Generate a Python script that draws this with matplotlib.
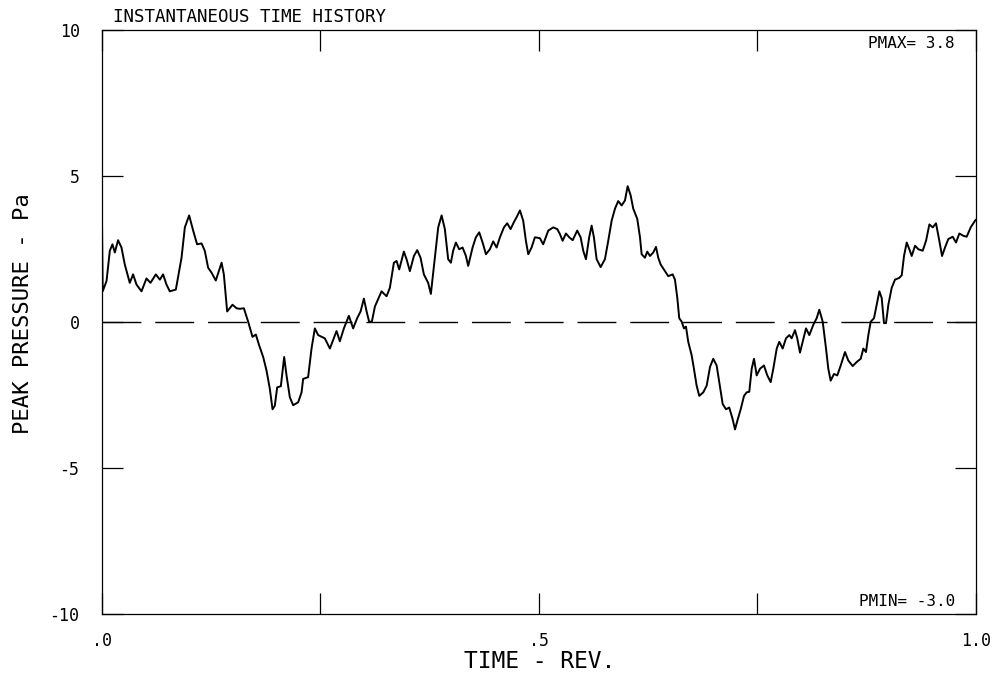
import matplotlib
matplotlib.use("Agg")
import matplotlib.pyplot as plt

# time history (time in rev, peak pressure in Pa)
time_rev = [
    0.000, 0.001, 0.0054, 0.0092, 0.0122, 0.0149, 0.0186, 0.0225, 0.0263, 0.0320,
    0.0358, 0.0397, 0.0454, 0.0511, 0.0557, 0.0618, 0.0664, 0.0701, 0.0740, 0.0778,
    0.0847, 0.0912, 0.0950, 0.0999, 0.1045, 0.1090, 0.1141, 0.1178, 0.1216, 0.1255,
    0.1304, 0.1370, 0.1396, 0.1434, 0.1495, 0.1541, 0.1579, 0.1625, 0.1674, 0.1724,
    0.1762, 0.1800, 0.1846, 0.1884, 0.1922, 0.1953, 0.1979, 0.2006, 0.2048, 0.2086,
    0.2113, 0.2151, 0.2189, 0.2246, 0.2285, 0.2303, 0.2360, 0.2399, 0.2437, 0.2475,
    0.2551, 0.2609, 0.2646, 0.2685, 0.2723, 0.2769, 0.2826, 0.2875, 0.2921, 0.2960,
    0.2998, 0.3029, 0.3058, 0.3089, 0.3124, 0.3200, 0.3257, 0.3295, 0.3341, 0.3372,
    0.3402, 0.3455, 0.3486, 0.3524, 0.3570, 0.3608, 0.3646, 0.3684, 0.3733, 0.3764,
    0.3810, 0.3848, 0.3887, 0.3924, 0.3962, 0.3993, 0.4019, 0.4050, 0.4088, 0.4127,
    0.4165, 0.4191, 0.4241, 0.4279, 0.4317, 0.4356, 0.4394, 0.4439, 0.4477, 0.4516,
    0.4554, 0.4600, 0.4637, 0.4676, 0.4714, 0.4745, 0.4783, 0.4820, 0.4851, 0.4878,
    0.4916, 0.4954, 0.5011, 0.5049, 0.5107, 0.5164, 0.5210, 0.5240, 0.5271, 0.5309,
    0.5347, 0.5386, 0.5438, 0.5477, 0.5507, 0.5538, 0.5575, 0.5603, 0.5629, 0.5660,
    0.5706, 0.5755, 0.5793, 0.5832, 0.5870, 0.5907, 0.5946, 0.5984, 0.6015, 0.6049,
    0.6079, 0.6125, 0.6156, 0.6175, 0.6213, 0.6239, 0.6270, 0.6308, 0.6339, 0.6365,
    0.6392, 0.6442, 0.6479, 0.6530, 0.6556, 0.6583, 0.6605, 0.6633, 0.6659, 0.6682,
    0.6708, 0.6747, 0.6773, 0.6804, 0.6834, 0.6880, 0.6919, 0.6957, 0.6994, 0.7033,
    0.7063, 0.7102, 0.7140, 0.7177, 0.7216, 0.7243, 0.7269, 0.7308, 0.7346, 0.7376,
    0.7406, 0.7434, 0.7460, 0.7491, 0.7529, 0.7574, 0.7612, 0.7651, 0.7681, 0.7720,
    0.7749, 0.7788, 0.7826, 0.7864, 0.7891, 0.7929, 0.7955, 0.7986, 0.8017, 0.8055,
    0.8093, 0.8138, 0.8177, 0.8207, 0.8246, 0.8284, 0.8310, 0.8337, 0.8375, 0.8413,
    0.8452, 0.8501, 0.8539, 0.8589, 0.8635, 0.8681, 0.8711, 0.8741, 0.8768, 0.8795,
    0.8833, 0.8871, 0.8894, 0.8921, 0.8947, 0.8970, 0.8997, 0.9035, 0.9073, 0.9122,
    0.9150, 0.9176, 0.9207, 0.9237, 0.9264, 0.9302, 0.9340, 0.9390, 0.9428, 0.9466,
    0.9505, 0.9542, 0.9580, 0.9611, 0.9645, 0.9683, 0.9733, 0.9771, 0.9809, 0.9855,
    0.9893, 0.9939, 0.9989, 1.000,
]
pressure = [
    4.20, 1.05, 1.40, 2.44, 2.66, 2.38, 2.80, 2.55, 1.97, 1.34,
    1.63, 1.28, 1.05, 1.49, 1.34, 1.63, 1.45, 1.63, 1.28, 1.05,
    1.11, 2.20, 3.24, 3.65, 3.13, 2.66, 2.69, 2.44, 1.86, 1.69,
    1.42, 2.03, 1.63, 0.36, 0.59, 0.47, 0.45, 0.47, 0.01, -0.51,
    -0.43, -0.80, -1.20, -1.66, -2.29, -2.99, -2.87, -2.24, -2.20, -1.20,
    -1.83, -2.58, -2.85, -2.75, -2.41, -1.95, -1.89, -0.91, -0.22, -0.45,
    -0.56, -0.91, -0.62, -0.31, -0.66, -0.22, 0.21, -0.22, 0.13, 0.36,
    0.80, 0.36, 0.01, 0.01, 0.53, 1.05, 0.88, 1.17, 2.03, 2.09,
    1.80, 2.41, 2.15, 1.74, 2.26, 2.46, 2.20, 1.63, 1.34, 0.96,
    2.20, 3.24, 3.65, 3.18, 2.15, 2.03, 2.44, 2.72, 2.49, 2.55,
    2.26, 1.92, 2.55, 2.90, 3.07, 2.72, 2.32, 2.49, 2.76, 2.55,
    2.90, 3.24, 3.38, 3.18, 3.42, 3.59, 3.82, 3.47, 2.78, 2.32,
    2.55, 2.90, 2.87, 2.66, 3.13, 3.24, 3.18, 3.01, 2.78, 3.03,
    2.90, 2.80, 3.13, 2.90, 2.44, 2.15, 2.90, 3.30, 2.90, 2.15,
    1.88, 2.15, 2.78, 3.47, 3.88, 4.14, 3.99, 4.16, 4.65, 4.34,
    3.88, 3.53, 2.90, 2.32, 2.20, 2.41, 2.26, 2.38, 2.57, 2.20,
    1.97, 1.74, 1.57, 1.63, 1.45, 0.82, 0.13, 0.01, -0.22, -0.16,
    -0.68, -1.14, -1.60, -2.18, -2.53, -2.41, -2.18, -1.54, -1.26, -1.49,
    -2.06, -2.81, -2.99, -2.93, -3.33, -3.68, -3.39, -2.99, -2.53, -2.41,
    -2.39, -1.60, -1.26, -1.83, -1.60, -1.49, -1.83, -2.06, -1.60, -0.91,
    -0.68, -0.91, -0.56, -0.45, -0.56, -0.28, -0.56, -1.05, -0.68, -0.22,
    -0.45, -0.10, 0.13, 0.42, 0.01, -0.91, -1.60, -2.01, -1.78, -1.83,
    -1.49, -1.03, -1.32, -1.51, -1.37, -1.26, -0.91, -1.03, -0.45, 0.01,
    0.13, 0.71, 1.05, 0.82, -0.04, -0.04, 0.59, 1.17, 1.45, 1.51,
    1.60, 2.26, 2.72, 2.49, 2.26, 2.61, 2.49, 2.44, 2.78, 3.34,
    3.24, 3.38, 2.78, 2.26, 2.55, 2.84, 2.92, 2.72, 3.03, 2.95,
    2.92, 3.24, 3.47, 3.50,
]

x_ticks = [0.0, 0.5, 1.0]
x_tick_labels = [".0", ".5", "1.0"]
x_minor = [0.25, 0.75]
y_ticks = [-10, -5, 0, 5, 10]
y_tick_labels = ["-10", "-5", "0", "5", "10"]
p_max_label = "PMAX= 3.8"
p_min_label = "PMIN= -3.0"

mono = "DejaVu Sans Mono"
plt.rcParams["font.family"] = mono

fig = plt.figure(figsize=(9.98, 6.81), dpi=100)
ax = fig.add_axes([0.102, 0.0984, 0.876, 0.8576])

ax.plot(time_rev, pressure, color="black", lw=1.4, solid_joinstyle="round")
ax.axhline(0, color="black", lw=1.0, dashes=(28, 10))

ax.set_xlim(0, 1)
ax.set_ylim(-10, 10)
ax.set_xticks(x_ticks)
ax.set_xticklabels(x_tick_labels)
ax.set_xticks(x_minor, minor=True)
ax.set_yticks(y_ticks)
ax.set_yticklabels(y_tick_labels)
ax.tick_params(which="both", direction="in", length=15, width=0.9,
               top=True, right=True, labelsize=12, colors="black")
ax.tick_params(axis="y", pad=16)
ax.tick_params(axis="x", which="major", pad=13)
for s in ax.spines.values():
    s.set_linewidth(0.9)

ax.text(0.976, 0.976, p_max_label, transform=ax.transAxes, ha="right",
        va="center", fontsize=11.5)
ax.text(0.976, 0.022, p_min_label, transform=ax.transAxes, ha="right",
        va="center", fontsize=11.5)

fig.text(0.113, 0.975, "INSTANTANEOUS TIME HISTORY", ha="left", va="center",
         fontsize=12.6)
fig.text(0.023, 0.540, "PEAK PRESSURE - Pa", rotation=90, ha="center",
         va="center", fontsize=16)
fig.text(0.541, 0.028, "TIME - REV.", ha="center", va="center", fontsize=16.5)

fig.savefig("out.png", dpi=100)
